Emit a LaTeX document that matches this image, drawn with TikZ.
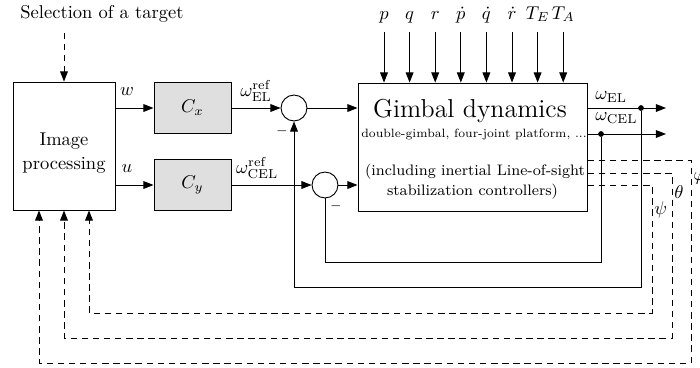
\documentclass[tikz,border=0pt]{standalone}
\usepackage{tikz}
\usetikzlibrary{arrows.meta,calc,positioning}
\newcommand{\gtitlesize}{\fontsize{14}{16}\selectfont}
\newcommand{\gsubsize}{\fontsize{6.5}{8}\selectfont}
\newcommand{\gnotesize}{\fontsize{8.2}{10}\selectfont}
\tikzset{
  loopfig/.style={x=0.54pt,y=-0.54pt,line width=0.5pt,
    >={Triangle[length=5.5pt,width=4.2pt]}},
  blockbox/.style={draw,inner sep=0pt},
  ctrlbox/.style={blockbox,fill=gray!25,minimum width=41.6pt,minimum height=27.5pt},
  sumnode/.style={draw,circle,inner sep=0pt,minimum size=14pt},
  junction/.style={circle,fill,inner sep=1.1pt},
  measline/.style={dash pattern=on 3.5pt off 2.5pt},
  minussign/.style={font=\scriptsize,inner sep=0pt},
  anglelab/.style={anchor=west,inner sep=1pt},
}

\begin{document}
\begin{tikzpicture}[loopfig]
  \useasboundingbox (0,0) rectangle (700,367);

  % target selection and image processing
  \node (sel) at (102,14) {Selection of a target};
  \node[blockbox,minimum width=55.1pt,minimum height=69.1pt] (imgproc) at (64,146) {};
  \node[align=center] (imgtxt) at (64,153) {Image\\[1pt]processing};
  \draw[measline,->] ([yshift=-2pt]sel.south -| imgproc.north) -- (imgproc.north);

  % controllers
  \node[ctrlbox] (cx) at (192.5,108) {$C_x$};
  \node[ctrlbox] (cy) at (192.5,185) {$C_y$};
  \draw[->] (imgproc.east |- cx) -- node[pos=0.3,above=3pt] {$w$} (cx);
  \draw[->] (imgproc.east |- cy) -- node[pos=0.3,above=3pt] {$u$} (cy);

  % summing junctions
  \node[sumnode] (s1) at (294,108) {};
  \node[sumnode] (s2) at (325,185) {};
  \draw[->] (cx) -- node[above] {$\omega_{\mathrm{EL}}^{\mathrm{ref}}$} (s1);
  \draw[->] (cy) -- node[pos=0.32,above] {$\omega_{\mathrm{CEL}}^{\mathrm{ref}}$} (s2);
  \node[minussign] (m1) at (282,131) {$-$};
  \node[minussign] (m2) at (336,206) {$-$};

  % gimbal block
  \node[blockbox,minimum width=123.7pt,minimum height=69.1pt] (gimbal) at (472.5,147) {};
  \node[anchor=base,font=\gtitlesize] (gtitle) at (470,117) {Gimbal dynamics};
  \node[anchor=base,font=\gsubsize] (gsub) at (474,137) {double-gimbal, four-joint platform, ...};
  \node[anchor=base,font=\gnotesize] (gnote1) at (475,175) {(including inertial Line-of-sight};
  \node[anchor=base,font=\gnotesize] (gnote2) at (472.5,195) {stabilization controllers)};
  \draw[->] (s1) -- (s1 -| gimbal.west);
  \draw[->] (s2) -- (s2 -| gimbal.west);

  % body rates, accelerations and torques
  \foreach \lab [count=\i] in {p,q,r,\dot p,\dot q,\dot r,T_E,T_A}{
    \node[anchor=base,inner sep=0.5pt] (in\i) at ({384+25.6*(\i-1)},19) {$\lab$};
    \draw[->] ([yshift=-7pt]in\i.base) -- (in\i.base |- gimbal.north);
  }

  % rate outputs
  \coordinate (elend) at (666,108);
  \coordinate (celend) at (666,134);
  \draw[->] (gimbal.east |- elend) -- (elend);
  \draw[->] (gimbal.east |- celend) -- (celend);
  \node[anchor=west,inner sep=0.5pt] (lel) at (594,97) {$\omega_{\mathrm{EL}}$};
  \node[anchor=west,inner sep=0.5pt] (lcel) at (594,118) {$\omega_{\mathrm{CEL}}$};

  % rate feedback to the summing junctions
  \node[junction] (eldot) at (641,108) {};
  \node[junction] (celdot) at (601,134) {};
  \coordinate (elbot) at (641,287);
  \coordinate (celbot) at (601,262);
  \draw[->] (eldot) -- (elbot) -| (s1.south);
  \draw (celdot) -- (celbot) -| (s2.south);

  % gimbal angles back to image processing
  \coordinate (phibot) at (691,363);
  \coordinate (thetabot) at (672,338);
  \coordinate (psibot) at (652,313);
  \draw[measline,->] ($(gimbal.east)+(0,13)$) -| (phibot) -| ($(imgproc.south)+(-25,0)$);
  \draw[measline,->] ($(gimbal.east)+(0,26)$) -| (thetabot) -| (imgproc.south);
  \draw[measline,->] ($(gimbal.east)+(0,38)$) -| (psibot) -| ($(imgproc.south)+(25,0)$);
  \node[anglelab] (philab) at (691,178) {$\varphi$};
  \node[anglelab] (thetalab) at (672,192) {$\theta$};
  \node[anglelab] (psilab) at (652,210) {$\psi$};
\end{tikzpicture}
\end{document}
